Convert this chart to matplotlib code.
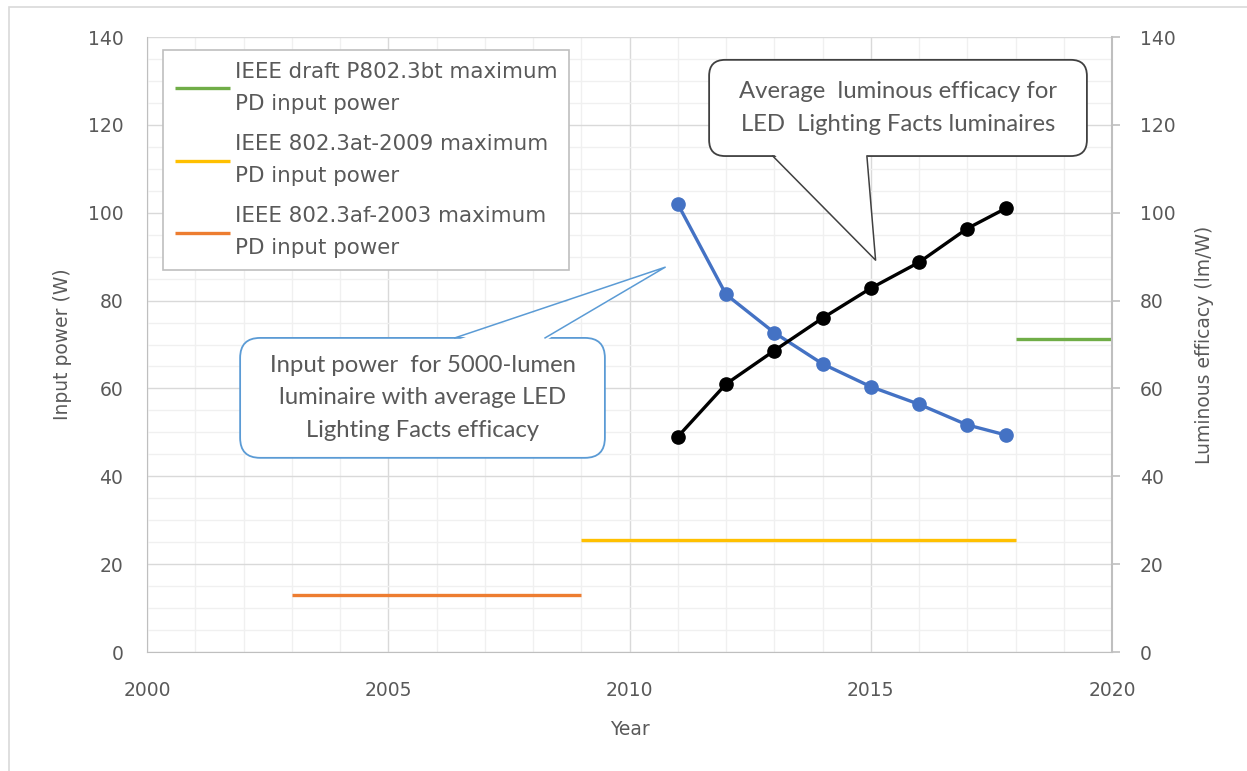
import matplotlib
matplotlib.use("Agg")
import matplotlib.pyplot as plt
import matplotlib.transforms as mtransforms
from matplotlib.patches import FancyBboxPatch, Polygon, Rectangle
from matplotlib.ticker import MultipleLocator

plt.rcParams['font.family'] = ['DejaVu Sans']

# input power for a 5000 lm luminaire (W), left axis
years = [2011, 2012, 2013, 2014, 2015, 2016, 2017, 2017.8]
input_power = [102.0, 81.4, 72.7, 65.6, 60.4, 56.4, 51.7, 49.4]

# average luminous efficacy (lm/W), right axis
efficacy = [49.0, 61.0, 68.6, 76.0, 82.8, 88.7, 96.4, 101.0]

# PoE maximum PD input power steps
af_years = [2003, 2009]
af_power = [12.95, 12.95]
at_years = [2009, 2018]
at_power = [25.5, 25.5]
bt_years = [2018, 2020]
bt_power = [71.3, 71.3]

TXT = '#595959'
GRID_MAJ = '#d9d9d9'
GRID_MIN = '#f0f0f0'

fig = plt.figure(figsize=(12.47, 7.71), dpi=100)
W, H = 1247, 771
ax = fig.add_axes([147 / W, 1 - 652 / H, (1112 - 147) / W, (652 - 37) / H])
ax2 = ax.twinx()

# light frame round the chart area
fig.patches.append(Rectangle((9 / W, -0.1), 1.2, 1 - 7 / H + 0.1, transform=fig.transFigure,
                             fill=False, ec='#d9d9d9', lw=1.2))

ax.set_xlim(2000, 2020)
ax.set_ylim(0, 140)
ax2.set_ylim(0, 140)

ax.xaxis.set_major_locator(MultipleLocator(5))
ax.xaxis.set_minor_locator(MultipleLocator(1))
ax.yaxis.set_major_locator(MultipleLocator(20))
ax.yaxis.set_minor_locator(MultipleLocator(5))
ax2.yaxis.set_major_locator(MultipleLocator(20))

ax.grid(which='major', color=GRID_MAJ, lw=1.0, zorder=0)
ax.grid(which='minor', color=GRID_MIN, lw=1.0, zorder=0)
ax.set_axisbelow(True)

for a in (ax, ax2):
    for s in a.spines.values():
        s.set_visible(False)
ax.spines['left'].set_visible(True)
ax.spines['left'].set_color('#bfbfbf')
ax.spines['bottom'].set_visible(True)
ax.spines['bottom'].set_color('#bfbfbf')
ax2.spines['right'].set_visible(True)
ax2.spines['right'].set_color('#bfbfbf')
ax2.spines['right'].set_linewidth(1.5)

ax.tick_params(axis='both', which='both', length=0, labelsize=13.5, labelcolor=TXT)
ax.tick_params(axis='x', pad=21)
ax.tick_params(axis='y', pad=17)
ax2.tick_params(axis='y', length=6, width=1.2, color='#bfbfbf', labelsize=13.5,
                labelcolor=TXT, pad=14)

ax.set_xlabel('Year', fontsize=13.5, color=TXT, labelpad=14)
ax.set_ylabel('Input power (W)', fontsize=13.5, color=TXT, labelpad=11)
ax2.set_ylabel('Luminous efficacy (lm/W)', fontsize=13.5, color=TXT, labelpad=14)

l_bt, = ax.plot(bt_years, bt_power, color='#70ad47', lw=2.4, solid_capstyle='butt', zorder=3)
l_at, = ax.plot(at_years, at_power, color='#ffc000', lw=2.4, solid_capstyle='butt', zorder=3)
l_af, = ax.plot(af_years, af_power, color='#ed7d31', lw=2.4, solid_capstyle='butt', zorder=3)

ax.plot(years, input_power, color='#4472c4', lw=2.4, marker='o', ms=9.5, zorder=4)
ax2.plot(years, efficacy, color='black', lw=2.4, marker='o', ms=9.5, zorder=4)

leg = ax.legend([l_bt, l_at, l_af],
                ['IEEE draft P802.3bt maximum\nPD input power',
                 'IEEE 802.3at-2009 maximum\nPD input power',
                 'IEEE 802.3af-2003 maximum\nPD input power'],
                loc='upper left', bbox_to_anchor=(0.0166, 0.979), fontsize=15.4,
                frameon=True, fancybox=False, edgecolor='#bfbfbf', framealpha=1,
                handlelength=2.6, handletextpad=0.2, labelspacing=0.92,
                borderpad=0.55, borderaxespad=0)
for t in leg.get_texts():
    t.set_color(TXT)
    t.set_linespacing(1.78)
leg.get_frame().set_linewidth(1.2)


def callout(box, base, tip, text, edge, rad):
    # box (x0, y0, x1, y1), base x pair and tip in data coords; drawn in pixels
    tr = ax.transData
    (px0, py0) = tr.transform((box[0], box[1]))
    (px1, py1) = tr.transform((box[2], box[3]))
    tx, ty = tr.transform(tip)
    top = max(py0, py1)
    bot = min(py0, py1)
    edge_y = top if ty > top else bot
    inset = -3 if edge_y == top else 3
    bx0, _ = tr.transform((base[0], 0))
    bx1, _ = tr.transform((base[1], 0))
    ident = mtransforms.IdentityTransform()
    fig.patches.append(FancyBboxPatch((px0, bot), px1 - px0, top - bot,
                                      boxstyle=f'round,pad=0,rounding_size={rad}',
                                      transform=ident, fc='white', ec=edge, lw=1.3, zorder=6))
    fig.patches.append(Polygon([(bx0, edge_y + inset), (tx, ty), (bx1, edge_y + inset)],
                               closed=True, transform=ident, fc='white', ec='none', zorder=7))
    fig.lines.append(plt.Line2D([bx0, tx, bx1], [edge_y, ty, edge_y], transform=ident,
                                color=edge, lw=1.1, zorder=8))
    fig.text((px0 + px1) / 2 / W, (top + bot) / 2 / H, text, ha='center', va='center',
             fontsize=17.2, color=TXT, family=['Lato', 'DejaVu Sans'], linespacing=1.68,
             zorder=9)


callout((2001.93, 71.5, 2009.49, 44.2), (2006.38, 2008.25), (2010.74, 87.6),
        'Input power  for 5000-lumen\nluminaire with average LED\nLighting Facts efficacy',
        '#5b9bd5', 20)
callout((2011.65, 134.8, 2019.48, 112.9), (2012.97, 2014.92), (2015.1, 89.2),
        'Average  luminous efficacy for\nLED  Lighting Facts luminaires',
        '#404040', 16)

fig.savefig('out.png', dpi=100)
